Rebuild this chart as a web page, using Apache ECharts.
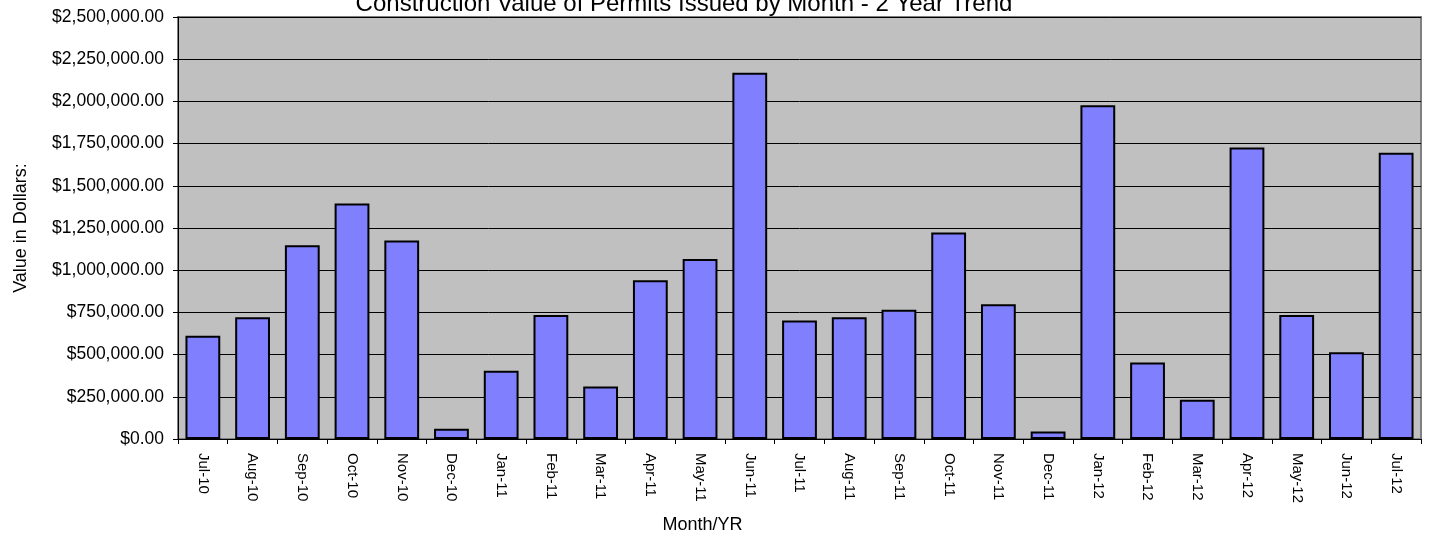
<!DOCTYPE html>
<html>
<head>
<meta charset="utf-8">
<script src="https://cdn.jsdelivr.net/npm/echarts@6/dist/echarts.min.js"></script>
<style>
  html, body { margin: 0; padding: 0; background: #fff; }
  #main { width: 1431px; height: 534px; }
</style>
</head>
<body>
<div id="main"></div>
<script>
// months (x axis)
var months = ['Jul-10', 'Aug-10', 'Sep-10', 'Oct-10', 'Nov-10', 'Dec-10',
  'Jan-11', 'Feb-11', 'Mar-11', 'Apr-11', 'May-11', 'Jun-11',
  'Jul-11', 'Aug-11', 'Sep-11', 'Oct-11', 'Nov-11', 'Dec-11',
  'Jan-12', 'Feb-12', 'Mar-12', 'Apr-12', 'May-12', 'Jun-12', 'Jul-12'];

// construction value of permits, dollars
var values = [612000, 721000, 1148000, 1395000, 1176000, 61000,
  405000, 735000, 311000, 941000, 1066000, 2169000,
  702000, 722000, 766000, 1223000, 798000, 45000,
  1977000, 453000, 232000, 1727000, 735000, 514000, 1696000];

var yMin = 0;
var yMax = 2500000;
var yStep = 250000;

var font = 'Liberation Sans, Arial, sans-serif';

function money(v) {
  var s = v.toFixed(2).replace(/\B(?=(\d{3})+(?!\d))/g, ',');
  return '$' + s;
}

var option = {
  animation: false,
  textStyle: { fontFamily: font, color: '#000' },
  title: {
    text: 'Construction Value of Permits Issued by Month - 2 Year Trend',
    left: 679,
    textAlign: 'center',
    top: -13,
    textStyle: { fontFamily: font, fontSize: 24, fontWeight: 'normal', color: '#000' }
  },
  grid: {
    left: 178,
    right: 10,
    top: 17,
    bottom: 95,
    outerBoundsMode: 'none',
    containLabel: false,
    show: true,
    backgroundColor: '#C0C0C0',
    borderColor: '#808080',
    borderWidth: 2
  },
  xAxis: {
    type: 'category',
    data: months,
    name: 'Month/YR',
    nameLocation: 'middle',
    nameGap: 77,
    nameTextStyle: { fontFamily: font, fontSize: 18, color: '#000', padding: [0, 194, 0, 0] },
    axisLine: { lineStyle: { color: '#000', width: 1 } },
    axisTick: { show: true, length: 5, interval: 0, lineStyle: { color: '#000' } },
    axisLabel: {
      interval: 0,
      rotate: -90,
      margin: 14,
      fontFamily: font,
      fontSize: 15,
      color: '#000'
    }
  },
  yAxis: {
    type: 'value',
    min: yMin,
    max: yMax,
    interval: yStep,
    name: 'Value in Dollars:',
    nameLocation: 'middle',
    nameGap: 148,
    nameTextStyle: { fontFamily: font, fontSize: 18, color: '#000' },
    axisLine: { show: true, lineStyle: { color: '#000', width: 1 } },
    axisTick: { show: true, length: 5, lineStyle: { color: '#000' } },
    axisLabel: {
      margin: 14,
      fontFamily: font,
      fontSize: 17.5,
      color: '#000',
      formatter: money
    },
    splitLine: { show: true, lineStyle: { color: '#000', width: 1 } }
  },
  series: [{
    type: 'bar',
    data: values,
    barWidth: '70%',
    itemStyle: {
      color: '#8080FF',
      borderColor: '#000',
      borderWidth: 2
    }
  }]
};

var chart = echarts.init(document.getElementById('main'));
chart.setOption(option);
</script>
</body>
</html>
